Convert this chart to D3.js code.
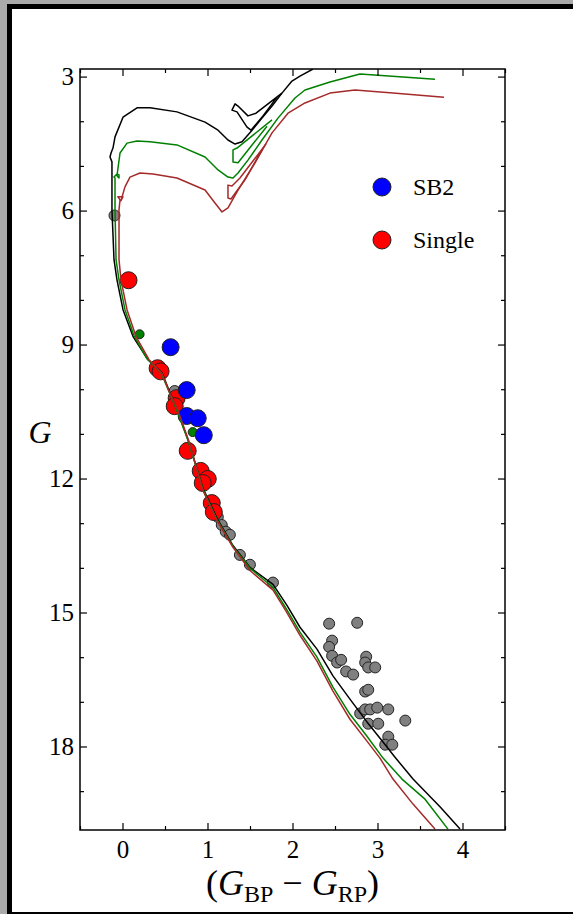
<!DOCTYPE html>
<html>
<head>
<meta charset="utf-8">
<script src="https://cdn.jsdelivr.net/npm/d3@7"></script>
<style>
  html, body { margin: 0; padding: 0; background: #aaaaaa; }
  svg { display: block; }
</style>
</head>
<body>
<script>
(function() {
	"use strict";
	// colour index ticks and magnitude ticks
	const COLOR_TICKS = [0, 1, 2, 3, 4],
	   COLOR_MINOR = [-0.5, 0.5, 1.5, 2.5, 3.5, 4.5],
	   MAG_TICKS = [3, 6, 9, 12, 15, 18],
	   MAG_MINOR = [4, 5, 7, 8, 10, 11, 13, 14, 16, 17, 19];

	// SB2 stars (blue)
	const SB2_BPRP = [0.566, 0.755, 0.755, 0.885, 0.956],
	   SB2_G = [9.06, 10.02, 10.60, 10.65, 11.03];
	// single stars (red)
	const SINGLE_BPRP = [0.071, 0.413, 0.448, 0.637, 0.614, 0.767, 0.920, 1.003, 0.944, 1.050, 1.074],
	   SINGLE_G = [7.56, 9.53, 9.60, 10.20, 10.38, 11.38, 11.83, 12.01, 12.10, 12.55, 12.75];
	// other members (grey)
	const OTHER_BPRP = [-0.094, 0.614, 1.121, 1.168, 1.215, 1.263, 1.381, 1.499, 1.770,
	                    2.431, 2.761, 2.466, 2.431, 2.466, 2.525, 2.572, 2.631, 2.714, 2.867,
	                    2.855, 2.891, 2.973, 2.855, 2.891, 2.796, 2.855, 2.914, 2.997, 3.127,
	                    3.327, 2.891, 3.009, 3.127, 3.091, 3.174],
	   OTHER_G = [6.11, 10.04, 12.86, 13.04, 13.19, 13.26, 13.71, 13.93, 14.33,
	              15.25, 15.23, 15.63, 15.77, 15.97, 16.12, 16.06, 16.32, 16.39, 15.99,
	              16.12, 16.23, 16.23, 16.77, 16.73, 17.26, 17.17, 17.17, 17.13, 17.17,
	              17.42, 17.49, 17.49, 17.78, 17.96, 17.96];
	// small green points
	const EXTRA_BPRP = [0.201, 0.826],
	   EXTRA_G = [8.77, 10.96];

	// isochrones [BP-RP, G]
	const ISO_BLACK = [[3.971,19.85],[3.735,19.35],[3.418,18.73],[3.206,18.24],[3.065,17.90],
	   [2.876,17.45],[2.676,16.94],[2.476,16.42],[2.288,15.82],[2.088,15.33],[1.935,14.84],
	   [1.771,14.37],[1.500,13.99],[1.300,13.50],[1.112,12.89],[0.947,12.22],[0.771,11.13],
	   [0.641,10.46],[0.559,10.08],[0.465,9.63],[0.300,9.34],[0.124,8.82],[0.006,8.22],
	   [-0.065,7.55],[-0.100,7.10],[-0.124,5.98],[-0.124,4.91],[-0.147,4.80],[-0.135,4.71],
	   [-0.112,4.60],[-0.088,4.35],[0.006,3.91],[0.171,3.70],[0.324,3.70],[0.641,3.79],
	   [0.971,4.02],[1.124,4.20],[1.241,4.42],[1.324,4.51],[1.406,4.46],[1.524,4.20],
	   [1.641,3.93],[1.759,3.66],[1.876,3.37],[1.994,3.10],[2.088,2.99],[2.241,2.83]],
	   ISO_BLACK_LOOP = [[1.876,3.37],[1.571,3.82],[1.476,3.88],[1.359,3.66],[1.324,3.61],
	   [1.288,3.75],[1.347,3.79],[1.465,4.13],[1.512,4.20],[1.653,3.88],[1.818,3.46]];
	const ISO_GREEN = [[3.829,19.85],[3.559,19.18],[3.288,18.73],[3.065,18.26],[2.876,17.77],
	   [2.676,17.28],[2.476,16.67],[2.288,16.00],[2.088,15.44],[1.924,14.91],[1.771,14.44],
	   [1.500,14.01],[1.300,13.52],[1.112,12.92],[0.947,12.24],[0.771,11.15],[0.641,10.48],
	   [0.547,10.05],[0.453,9.63],[0.288,9.32],[0.135,8.80],[0.029,8.22],[-0.041,7.55],
	   [-0.076,7.10],[-0.088,5.98],[-0.088,5.27],[-0.100,5.25],[-0.065,5.18],[-0.041,5.20],
	   [-0.041,5.27],[-0.065,5.22],[-0.029,4.71],[0.053,4.49],[0.171,4.44],[0.324,4.46],
	   [0.641,4.53],[0.971,4.80],[1.124,5.09],[1.241,5.25],[1.300,5.27],[1.359,5.16],
	   [1.476,4.87],[1.641,4.42],[1.829,3.93],[2.029,3.48],[2.147,3.30],[2.441,3.12],
	   [2.794,2.94],[3.300,3.01],[3.676,3.06]],
	   ISO_GREEN_LOOP = [[1.759,3.97],[1.347,4.60],[1.300,4.64],[1.300,4.91],[1.359,4.93],[1.700,4.11]];
	const ISO_RED = [[3.676,19.85],[3.418,19.29],[3.182,18.73],[3.029,18.26],[2.876,17.88],
	   [2.676,17.39],[2.476,16.76],[2.288,16.09],[2.088,15.51],[1.924,14.97],[1.771,14.50],
	   [1.500,14.06],[1.300,13.54],[1.112,12.94],[0.947,12.27],[0.782,11.17],[0.653,10.48],
	   [0.559,10.10],[0.465,9.65],[0.312,9.34],[0.159,8.82],[0.053,8.22],[-0.018,7.55],
	   [-0.041,7.10],[-0.041,5.98],[-0.029,5.76],[-0.053,5.69],[0.006,5.69],[-0.018,5.78],
	   [0.029,5.47],[0.088,5.25],[0.206,5.16],[0.359,5.18],[0.641,5.27],[0.971,5.54],
	   [1.088,5.83],[1.171,6.03],[1.241,5.94],[1.359,5.54],[1.559,4.93],[1.759,4.26],
	   [1.947,3.82],[2.147,3.59],[2.441,3.37],[2.735,3.30],[3.182,3.37],[3.782,3.46]],
	   ISO_RED_LOOP = [[1.688,4.51],[1.382,5.27],[1.288,5.45],[1.241,5.43],[1.241,5.72],
	   [1.276,5.74],[1.441,5.31],[1.653,4.60]];

	const W = 573, H = 914,
	   left = 80, right = 505, top = 69, bottom = 830,
	   SERIF = "'Liberation Serif', 'DejaVu Serif', serif";

	let svg = d3.select("body").append("svg").attr("width", W).attr("height", H);
	// page frame
	svg.append("rect").attr("width", W).attr("height", H).attr("fill", "#aaaaaa");
	svg.append("rect").attr("x", 9.5).attr("y", 6.5).attr("width", 620).attr("height", 908)
	   .attr("fill", "#fff").attr("stroke", "#000").attr("stroke-width", 5);

	const x = d3.scaleLinear().domain([-0.5, 4.5]).range([left, right]),
	   y = d3.scaleLinear().domain([2.83, 19.87]).range([top, bottom]);

	svg.append("clipPath").attr("id", "plotclip").append("rect")
	   .attr("x", left).attr("y", top).attr("width", right - left).attr("height", bottom - top);

	// points
	let pts = svg.append("g").attr("clip-path", "url(#plotclip)");
	function scatter(xs, gs, r, fill) {
		pts.append("g").selectAll("circle").data(xs).enter().append("circle")
		   .attr("cx", d => x(d)).attr("cy", (d,i) => y(gs[i])).attr("r", r)
		   .attr("fill", fill).attr("stroke", "#222").attr("stroke-width", 1);
	}
	scatter(OTHER_BPRP, OTHER_G, 5.5, "#808080");
	scatter(EXTRA_BPRP, EXTRA_G, 4.5, "#008000");
	scatter(SINGLE_BPRP, SINGLE_G, 8.5, "#ff0000");
	scatter(SB2_BPRP, SB2_G, 8.5, "#0000ff");

	// isochrones, brown drawn last (on top)
	const line = d3.line().x(d => x(d[0])).y(d => y(d[1]));
	let iso = svg.append("g").attr("clip-path", "url(#plotclip)").attr("fill", "none")
	   .attr("stroke-width", 1.5).attr("stroke-linejoin", "round");
	[[ISO_BLACK, "#000"], [ISO_BLACK_LOOP, "#000"], [ISO_GREEN, "#008000"],
	 [ISO_GREEN_LOOP, "#008000"], [ISO_RED, "#a52a2a"], [ISO_RED_LOOP, "#a52a2a"]]
	   .forEach(s => iso.append("path").attr("d", line(s[0])).attr("stroke", s[1]));

	// axes, ticks inward on all four sides
	function ax(gen, tx, ty, vals, size, labels, pad) {
		let g = svg.append("g").attr("transform", "translate(" + tx + "," + ty + ")")
		   .call(gen.tickValues(vals).tickSize(-size).tickPadding(pad || 0)
		   .tickFormat(labels ? d3.format("d") : ""));
		g.select(".domain").remove();
		g.selectAll(".tick line").attr("stroke", "#000").attr("stroke-width", 1.2);
		g.selectAll(".tick text").style("font-family", SERIF).style("font-size", "25px")
		   .attr("fill", "#000");
		return g;
	}
	ax(d3.axisBottom(x), 0, bottom, COLOR_TICKS, 7, true, 10);
	ax(d3.axisBottom(x), 0, bottom, COLOR_MINOR, 4, false);
	ax(d3.axisTop(x), 0, top, COLOR_TICKS, 7, false);
	ax(d3.axisTop(x), 0, top, COLOR_MINOR, 4, false);
	ax(d3.axisLeft(y), left, 0, MAG_TICKS, 7, true, 6);
	ax(d3.axisLeft(y), left, 0, MAG_MINOR, 4, false);
	ax(d3.axisRight(y), right, 0, MAG_TICKS, 7, false);
	ax(d3.axisRight(y), right, 0, MAG_MINOR, 4, false);

	svg.append("rect").attr("x", left).attr("y", top).attr("width", right - left)
	   .attr("height", bottom - top).attr("fill", "none").attr("stroke", "#000").attr("stroke-width", 1.5);

	// axis titles
	let xt = svg.append("text").attr("x", (left + right) / 2).attr("y", 895)
	   .attr("text-anchor", "middle").style("font-family", SERIF).style("font-size", "36px");
	xt.append("tspan").text("(");
	xt.append("tspan").style("font-style", "italic").text("G");
	xt.append("tspan").style("font-size", "24px").attr("dy", 7).text("BP");
	xt.append("tspan").attr("dy", -7).text(" \u2212 ");
	xt.append("tspan").style("font-style", "italic").text("G");
	xt.append("tspan").style("font-size", "24px").attr("dy", 7).text("RP");
	xt.append("tspan").attr("dy", -7).text(")");

	svg.append("text").attr("x", 40).attr("y", 443).attr("text-anchor", "middle")
	   .style("font-family", SERIF).style("font-style", "italic").style("font-size", "32px").text("G");

	// legend
	const LEGEND = [["SB2", "#0000ff"], ["Single", "#ff0000"]];
	let lg = svg.selectAll(".lg").data(LEGEND).enter().append("g")
	   .attr("transform", (d,i) => "translate(382," + (187 + i*53) + ")");
	lg.append("circle").attr("r", 9).attr("fill", d => d[1]).attr("stroke", "#222");
	lg.append("text").attr("x", 31).attr("y", 8).style("font-family", SERIF)
	   .style("font-size", "24px").text(d => d[0]);
}());
</script>
</body>
</html>
